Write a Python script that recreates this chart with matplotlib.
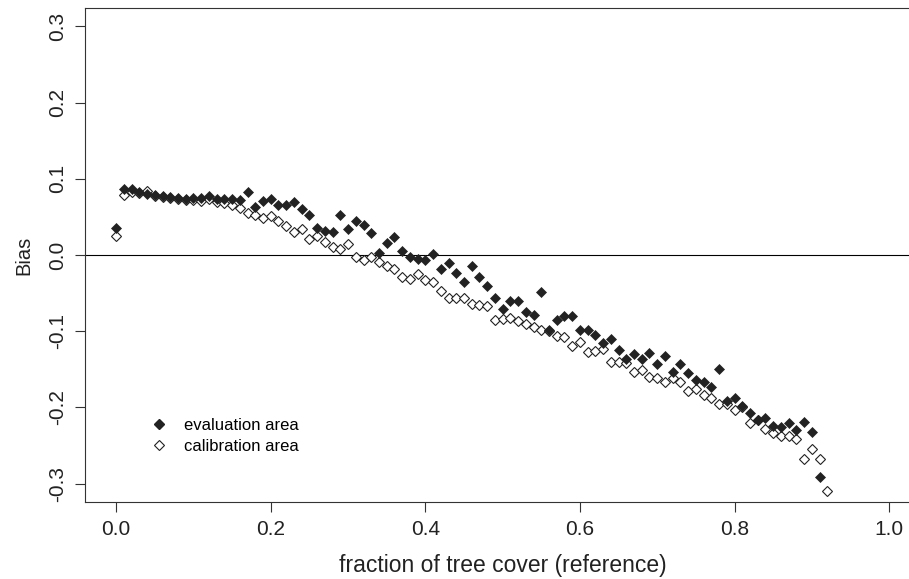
import numpy as np
import matplotlib
matplotlib.use("Agg")
import matplotlib.pyplot as plt
from matplotlib.lines import Line2D

plt.rcParams['font.family'] = ['Liberation Sans', 'DejaVu Sans']

# bias per tree cover class (step 0.01)
bias_eval = [0.036, 0.087, 0.086, 0.083, 0.080, 0.079, 0.077, 0.076, 0.075, 0.073,
             0.075, 0.075, 0.077, 0.074, 0.073, 0.074, 0.072, 0.082, 0.063, 0.071,
             0.073, 0.065, 0.066, 0.069, 0.060, 0.053, 0.036, 0.031, 0.030, 0.052,
             0.034, 0.044, 0.039, 0.029, 0.003, 0.016, 0.024, 0.005, -0.002, -0.005,
             -0.007, 0.001, -0.018, -0.010, -0.023, -0.035, -0.014, -0.029, -0.041, -0.057,
             -0.071, -0.061, -0.060, -0.075, -0.079, -0.049, -0.098, -0.085, -0.080, -0.080,
             -0.099, -0.099, -0.105, -0.116, -0.110, -0.125, -0.137, -0.130, -0.137, -0.128,
             -0.143, -0.133, -0.154, -0.143, -0.155, -0.164, -0.166, -0.173, -0.150, -0.192,
             -0.187, -0.198, -0.207, -0.216, -0.214, -0.224, -0.226, -0.220, -0.229, -0.219,
             -0.232, -0.291]

bias_calib = [0.025, 0.079, 0.083, 0.081, 0.084, 0.078, 0.076, 0.075, 0.074, 0.072,
              0.072, 0.071, 0.073, 0.069, 0.068, 0.066, 0.061, 0.055, 0.053, 0.049,
              0.051, 0.044, 0.038, 0.030, 0.034, 0.021, 0.025, 0.017, 0.010, 0.008,
              0.014, -0.002, -0.007, -0.002, -0.009, -0.015, -0.018, -0.029, -0.032, -0.025,
              -0.033, -0.035, -0.047, -0.056, -0.056, -0.056, -0.064, -0.066, -0.067, -0.085,
              -0.084, -0.082, -0.087, -0.091, -0.095, -0.098, -0.100, -0.106, -0.108, -0.120,
              -0.114, -0.127, -0.126, -0.123, -0.140, -0.141, -0.142, -0.154, -0.151, -0.160,
              -0.162, -0.166, -0.162, -0.167, -0.179, -0.176, -0.183, -0.187, -0.195, -0.196,
              -0.203, -0.200, -0.220, -0.216, -0.228, -0.233, -0.238, -0.237, -0.242, -0.268,
              -0.254, -0.268, -0.310]

cover_eval = np.arange(len(bias_eval)) / 100
cover_calib = np.arange(len(bias_calib)) / 100

xticks = [0.0, 0.2, 0.4, 0.6, 0.8, 1.0]
yticks = [-0.3, -0.2, -0.1, 0.0, 0.1, 0.2, 0.3]

fig = plt.figure(figsize=(9.09, 5.79), dpi=100)
# R-style plot region; right edge of the box falls just outside the image
ax = fig.add_axes([0.0938, 0.133, 0.9183, 0.8532])

ax.axhline(0, color='black', lw=0.8, zorder=1)
ax.plot(cover_calib, bias_calib, ls='none', marker='D', ms=5.4,
        mfc='white', mec='#222222', mew=0.8, zorder=2)
ax.plot(cover_eval, bias_eval, ls='none', marker='D', ms=5.4,
        mfc='#222222', mec='#222222', mew=0.5, zorder=3)

ax.set_xlim(-0.04, 1.04)
ax.set_ylim(-0.324, 0.324)
ax.set_xticks(xticks)
ax.set_xticklabels([f"{t:.1f}" for t in xticks])
ax.set_yticks(yticks)
ax.set_yticklabels([f"{t:.1f}" for t in yticks], rotation=90, va='center')
ax.tick_params(direction='out', length=7, width=0.8, colors='#333333',
               labelsize=15, labelcolor='#222222', pad=6)
for s in ax.spines.values():
    s.set_linewidth(0.8)
    s.set_color('#333333')

ax.set_xlabel('fraction of tree cover (reference)', fontsize=16.5, color='#222222', labelpad=11)
ax.set_ylabel('Bias', fontsize=14.5, color='#222222', labelpad=11)

handles = [Line2D([], [], ls='none', marker='D', ms=5.4, mfc='#222222', mec='#222222'),
           Line2D([], [], ls='none', marker='D', ms=5.4, mfc='white', mec='#222222', mew=0.8)]
ax.legend(handles, ['evaluation area', 'calibration area'], loc='upper left',
          bbox_to_anchor=(0.058, 0.2), frameon=False, fontsize=12,
          handletextpad=0.9, labelspacing=0.35, handlelength=1.2)

fig.savefig('out.png', dpi=100)
